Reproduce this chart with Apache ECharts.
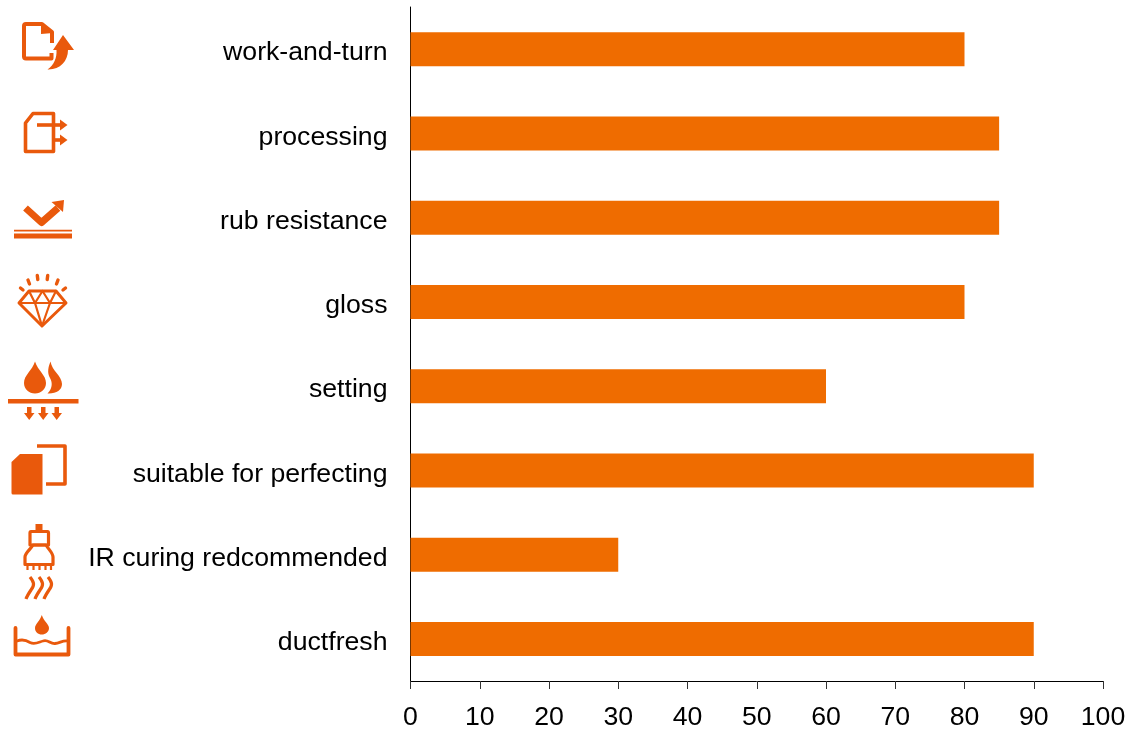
<!DOCTYPE html>
<html><head><meta charset="utf-8">
<style>html,body{margin:0;padding:0;background:#fff}#c{width:1132px;height:729px}</style>
<script src="https://cdn.jsdelivr.net/npm/echarts@6/dist/echarts.min.js"></script>
</head><body><div id="c"></div>
<script>
const categories = ["work-and-turn","processing","rub resistance","gloss","setting","suitable for perfecting","IR curing redcommended","ductfresh"];
const values = [80,85,85,80,60,90,30,90];
const ICON = "#E9590C";
let shapeCount = 0;
const shapeType = (d)=>{
  const name = 'iconShape' + (shapeCount++);
  echarts.graphic.registerShape(name, echarts.graphic.extendPath(d, {}));
  return name;
};
const filled = (d)=>({type:shapeType(d),silent:true,style:{fill:ICON,stroke:null}});
const outline = (d,w,cap)=>({type:shapeType(d),silent:true,style:{fill:null,stroke:ICON,lineWidth:w,lineJoin:'round',lineCap:cap||'round'}});
const iconParts = [
 // work-and-turn
 outline("M52 43 V32 L42 24 H26 Q24 24 24 26 V56.5 Q24 58.5 26 58.5 H51.5 V53",4,'butt'),
 filled("M41 23 L53 33 L41 34 Z"),
 filled("M63 35 L74 50 L68 50 C68 61 60 70 47.5 69.5 C54 65 57 58 56.5 50 L53 50 Z"),
 // processing
 outline("M33 113.5 H53.5 V151.5 H25.5 V123 Z",3.6),
 outline("M37 125 H61",3.6,'butt'),
 filled("M60 119.5 L67.5 125 L60 130.5 Z"),
 outline("M54 140 H61",3.6,'butt'),
 filled("M60 134.5 L67.5 140 L60 145.5 Z"),
 // rub resistance
 outline("M25.5 208 L41.5 222.5 L58 208",7,'butt'),
 filled("M64 200 L63 212 L51.5 202 Z"),
 filled("M14 229.8 H72 V231.4 H14 Z"),
 filled("M14 233.5 H72 V238.5 H14 Z"),
 // gloss
 outline("M29 291 H56 L66 303 L42 326 L19 303 Z",3),
 outline("M19 303 H66 M29 291 L35 303 L42 326 L50 303 L56 291 M35 303 L42.5 291 L50 303",2.2),
 outline("M20.5 288 L23 290 M28 280 L29.5 284 M37.3 275.5 L37.8 279.5 M47.7 275.5 L47.2 279.5 M58 280 L56.5 284 M65.5 288 L63 290",3.4),
 // setting
 filled("M35 361.5 C38 371 46 375 46 383 C46 389 41 393.5 35 393.5 C29 393.5 24 389 24 383 C24 375 32 371 35 361.5 Z"),
 filled("M50.5 361.5 C52 371 62 376 62 384 C62 390 56 394 47.5 393.5 C52 389 53 383 50 378 C48 374 47 370 50.5 361.5 Z"),
 filled("M8 399 H78.5 V403.5 H8 Z"),
 filled("M27 407 H31.5 V413 H34.5 L29.2 420 L24 413 H27 Z"),
 filled("M41 407 H45.5 V413 H48.5 L43.2 420 L38 413 H41 Z"),
 filled("M54.5 407 H59 V413 H62 L56.7 420 L51.5 413 H54.5 Z"),
 // suitable for perfecting
 filled("M20 454 H42.5 V494.5 H13 Q11.5 494.5 11.5 493 V462 Z"),
 outline("M37 446 H65 V484 H46",3.6,'butt'),
 // IR curing recommended
 filled("M35.5 524 H42.5 V531 H35.5 Z"),
 outline("M31 531.5 H47.5 Q48.5 531.5 48.5 533 V545 H30 V533 Q30 531.5 31 531.5 Z",3.2),
 outline("M33 545 H46 C49 550 53 553 53 557 V564.5 H25 V557 C25 553 30 550 33 545 Z",3.2),
 outline("M27.5 565 V570 M33.5 565 V570 M39.5 565 V570 M45.5 565 V570 M51 565 V570",2.2,'butt'),
 outline("M30 577 C34 582 35 585 31 590 C29 593 27 596 26 599",3.2,'butt'),
 outline("M39 577 C43 582 44 585 40 590 C38 593 36 596 35 599",3.2,'butt'),
 outline("M48 577 C52 582 53 585 49 590 C47 593 45 596 44 599",3.2,'butt'),
 // ductfresh
 outline("M15.5 628 V654.5 H68.5 V628",3.8),
 outline("M17 641 C22 639 26 640 30 642.5 C35 645 39 642 43 641 C48 639 50 644 55 643.5 C60 643 63 640 68 641",2.8),
 filled("M41.8 615 C43.5 621 49 624 49 628 C49 632 45.5 634.5 41.8 634.5 C38 634.5 35 632 35 628 C35 624 40 621 41.8 615 Z")
];
const chart = echarts.init(document.getElementById('c'),null,{renderer:'canvas'});
chart.setOption({
 animation:false,
 textStyle:{fontFamily:'"Liberation Sans",Arial,sans-serif'},
 grid:{left:410.5,right:29,top:7,bottom:48,containLabel:false,outerBoundsMode:'none'},
 xAxis:{type:'value',min:0,max:100,interval:10,splitLine:{show:false},
  axisLine:{show:true,onZero:false,lineStyle:{color:'#000',width:1}},
  axisTick:{show:true,length:8,lineStyle:{color:'#333',width:1}},
  axisLabel:{color:'#000',fontSize:26.67,margin:23,hideOverlap:false}},
 yAxis:{type:'category',inverse:true,data:categories,
  axisLine:{show:true,lineStyle:{color:'#000',width:1}},axisTick:{show:false},
  axisLabel:{color:'#000',fontSize:26.67,margin:23,interval:0,verticalAlign:'top',lineHeight:8}},
 series:[{type:'bar',data:values,barWidth:34,itemStyle:{color:'#EF6C00'},silent:true}],
 graphic:{elements:iconParts}
});
</script></body></html>
